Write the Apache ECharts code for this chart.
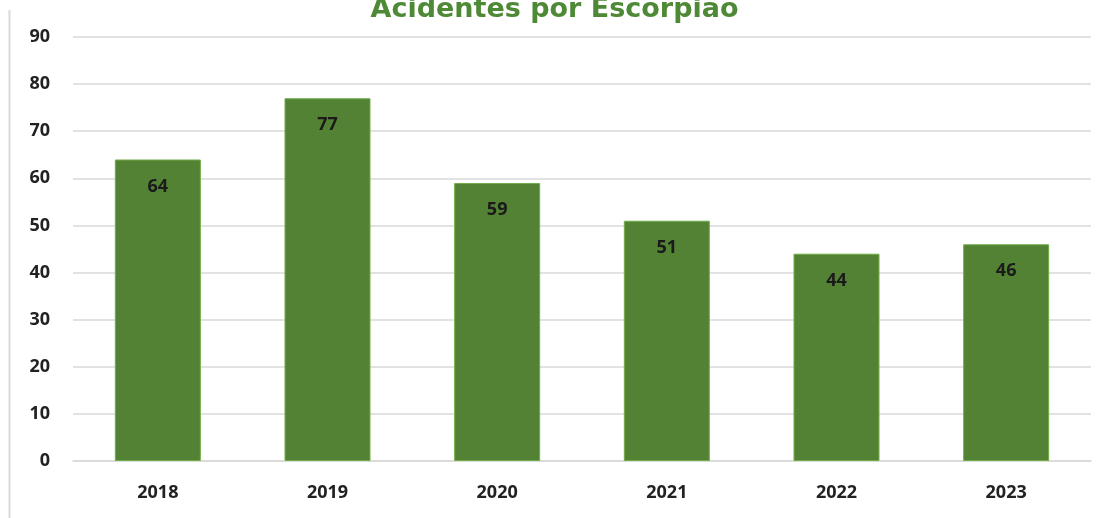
<!DOCTYPE html>
<html>
<head>
<meta charset="utf-8">
<script src="https://cdn.jsdelivr.net/npm/echarts@6/dist/echarts.min.js"></script>
<style>
  html, body { margin: 0; padding: 0; background: #fff; }
  #chart { width: 1109px; height: 518px; }
</style>
</head>
<body>
<div id="chart"></div>
<script>
// dados do gráfico
var anos = ['2018', '2019', '2020', '2021', '2022', '2023'];
var acidentes = [64, 77, 59, 51, 44, 46];
var titulo = 'Acidentes por Escorpião';

var myChart = echarts.init(document.getElementById('chart'));

myChart.setOption({
    animation: false,
    title: {
        text: titulo,
        left: 'center',
        top: -9,
        textStyle: {
            fontFamily: 'DejaVu Sans',
            fontSize: 27,
            fontWeight: 'bold',
            color: '#4e8a36'
        }
    },
    grid: {
        left: 73,
        right: 18,
        top: 37,
        bottom: 57,
        containLabel: false
    },
    // borda cinza à esquerda
    graphic: [{
        type: 'line',
        shape: { x1: 9.5, y1: 10, x2: 9.5, y2: 518 },
        style: { stroke: '#d9d9d9', lineWidth: 2 }
    }],
    xAxis: {
        type: 'category',
        data: anos,
        axisLine: { lineStyle: { color: '#d9d9d9', width: 1.5 } },
        axisTick: { show: false },
        axisLabel: {
            margin: 23,
            fontFamily: 'Open Sans',
            fontSize: 18,
            fontWeight: 'bold',
            color: '#222'
        }
    },
    yAxis: {
        type: 'value',
        min: 0,
        max: 90,
        interval: 10,
        axisLine: { show: false },
        axisTick: { show: false },
        splitLine: { lineStyle: { color: '#d9d9d9', width: 1.5 } },
        axisLabel: {
            margin: 23,
            fontFamily: 'Open Sans',
            fontSize: 18,
            fontWeight: 'bold',
            color: '#222'
        }
    },
    series: [{
        type: 'bar',
        data: acidentes,
        barWidth: 86,
        itemStyle: {
            color: '#548235',
            borderColor: '#70ad47',
            borderWidth: 1
        },
        label: {
            show: true,
            position: 'insideTop',
            distance: 18,
            fontFamily: 'Open Sans',
            fontSize: 18,
            fontWeight: 'bold',
            color: '#1a1a1a'
        }
    }]
});
</script>
</body>
</html>
